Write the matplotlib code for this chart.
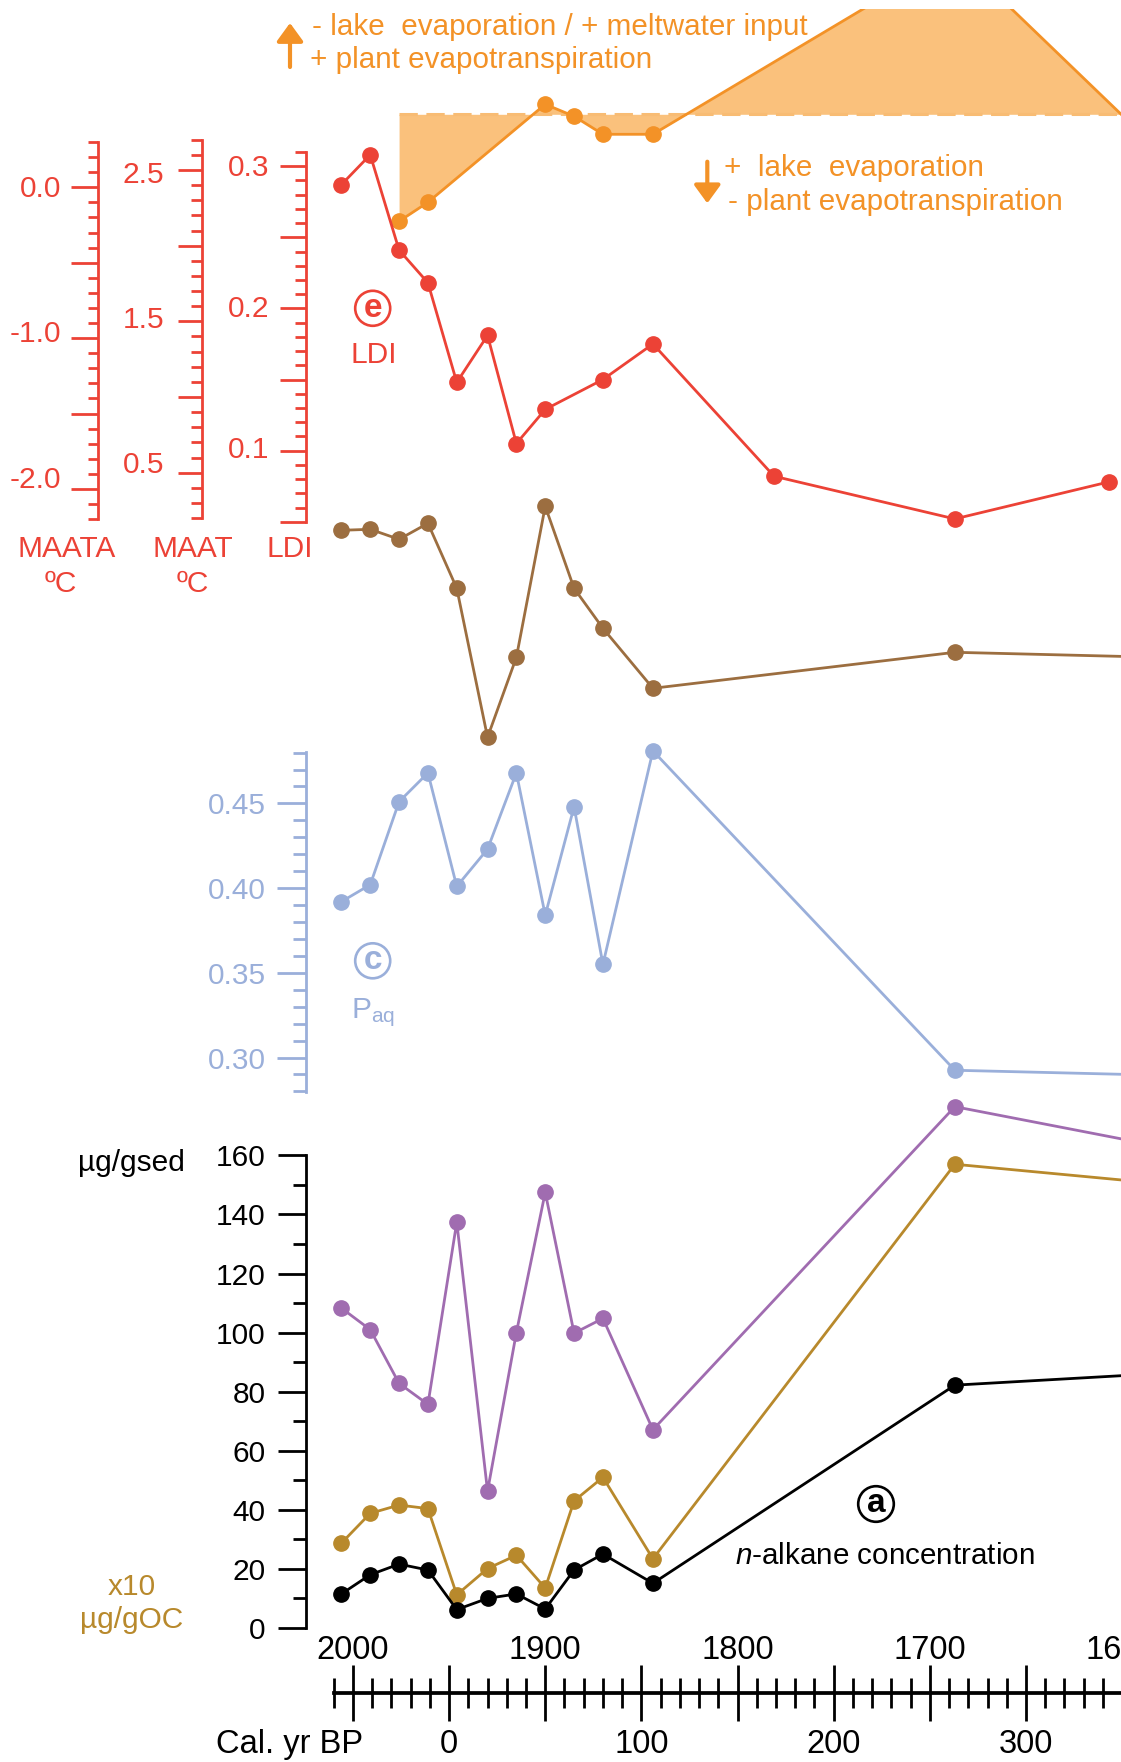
import matplotlib
matplotlib.use('Agg')
import matplotlib.pyplot as plt
import numpy as np
from matplotlib.patches import Circle
from matplotlib.ticker import MultipleLocator, FixedLocator, FuncFormatter, NullLocator
from matplotlib.transforms import blended_transform_factory

plt.rcParams['font.family'] = ['Liberation Sans', 'DejaVu Sans']
plt.rcParams['mathtext.fontset'] = 'custom'
plt.rcParams['mathtext.rm'] = 'Liberation Sans'
plt.rcParams['mathtext.it'] = 'Liberation Sans:italic'
plt.rcParams['mathtext.default'] = 'regular'

# sample ages, yr AD (last value of most series lies past the right edge)
years = [2006, 1991, 1976, 1961, 1946, 1930, 1915, 1900, 1885, 1870, 1844, 1687, 1560]
years_ldi = [2006, 1991, 1976, 1961, 1946, 1930, 1915, 1900, 1870, 1844, 1781, 1687, 1607]
years_dd = [1976, 1961, 1900, 1885, 1870, 1844, 1687, 1560]

# hydrology proxy, anomaly to the mean (arbitrary units, no axis)
dd = [-10.7, -8.8, 1.0, -0.2, -2.0, -2.0, 16.0, -7.5]
# (e) LDI
ldi = [0.287, 0.308, 0.241, 0.218, 0.148, 0.181, 0.105, 0.129, 0.150, 0.175, 0.082, 0.052, 0.078]
# (d) chain length (no axis shown)
acl = [28.58, 28.59, 28.49, 28.65, 28.00, 26.51, 27.31, 28.82, 28.00, 27.60, 27.00, 27.36, 27.30]
# (c) Paq
paq = [0.392, 0.402, 0.451, 0.468, 0.401, 0.423, 0.468, 0.384, 0.448, 0.355, 0.481, 0.2925, 0.289]
# (a) n-alkane concentrations
conc_oc = [108.3, 101.0, 82.8, 75.7, 137.4, 46.3, 100.0, 147.5, 99.8, 104.8, 67.1, 176.5, 160.5]
conc_oc10 = [28.7, 38.8, 41.6, 40.4, 11.2, 20.1, 24.6, 13.5, 43.0, 51.0, 23.4, 157.0, 149.2]
conc_sed = [11.5, 18.0, 21.6, 19.6, 6.2, 10.0, 11.5, 6.4, 19.6, 25.0, 15.1, 82.2, 86.9]

ad_labels = [2000, 1900, 1800, 1700, 1600]
bp_labels = [0, 100, 200, 300]

RED = '#EC4236'
ORANGE = '#F39227'
FILL = '#FAC17C'
DASH = '#F8BC74'
BROWN = '#9C6E40'
BLUE = '#9AAFDA'
PURPLE = '#A06CB0'
GOLD = '#B8892C'

W, H, DPI = 1121, 1762, 100
L, R = 306, 1121
X0, X1 = 2024.4, 1600.6
FS = 21.5
FS_T = 23.5

fig = plt.figure(figsize=(W / DPI, H / DPI), dpi=DPI)


def px_axes(left, top, right, bottom):
    ax = fig.add_axes([left / W, 1 - bottom / H, (right - left) / W, (bottom - top) / H])
    ax.patch.set_visible(False)
    for s in ax.spines.values():
        s.set_visible(False)
    ax.xaxis.set_major_locator(NullLocator())
    ax.yaxis.set_major_locator(NullLocator())
    return ax


def panel(top, bottom, lo, hi):
    ax = px_axes(L, top, R, bottom)
    ax.set_xlim(X0, X1)
    ax.set_ylim(lo, hi)
    return ax


def tick_axis(ax, color, major, minor, mlen, nlen):
    ax.spines['left'].set_visible(True)
    ax.spines['left'].set_color(color)
    ax.spines['left'].set_linewidth(2.0)
    ax.yaxis.set_major_locator(MultipleLocator(major))
    ax.yaxis.set_minor_locator(MultipleLocator(minor))
    ax.tick_params(axis='y', which='major', length=mlen, width=2.0, color=color, labelleft=False)
    ax.tick_params(axis='y', which='minor', length=nlen, width=2.0, color=color)


def label_axis(ax, color, shown, fmt, pad):
    # separate, invisible axes that only carries the tick labels
    ax.yaxis.set_major_locator(FixedLocator(shown))
    ax.yaxis.set_major_formatter(FuncFormatter(lambda v, p: fmt.format(v + 0.0)))
    ax.tick_params(axis='y', which='major', length=0, labelcolor=color,
                   labelsize=FS, pad=pad, labelleft=True)


def ftext(x, y, s, **kw):
    kw.setdefault('fontsize', FS)
    return fig.text(x / W, 1 - y / H, s, **kw)


def circled(x, y, letter, color, r=17.5):
    fig.add_artist(Circle((x / DPI, (H - y) / DPI), r / DPI, transform=fig.dpi_scale_trans,
                          fill=False, ec=color, lw=1.9))
    ftext(x, y + 8.5, letter, ha='center', va='baseline', fontsize=24,
          fontweight='bold', color=color)


line_kw = dict(lw=2.0, marker='o', ms=11, clip_on=False)

# hydrology panel (top, no axis)
ax_dd = panel(9, 240, -12.57, 10.53)
ax_dd.fill_between(years_dd, dd, 0, color=FILL, lw=0)
ax_dd.hlines(0, years_dd[0], X1, colors=DASH, lw=2.2, linestyles=(0, (6, 2.8)))
ax_dd.plot(years_dd, dd, color=ORANGE, lw=2.0, marker='o', ms=11)

# (e) LDI with MAAT and MAATA scales (labels sit slightly off the ticks, as drawn)
ax_e = panel(151.8, 521.9, 0.0499, 0.3101)
tick_axis(ax_e, RED, 0.05, 0.01, 18.7, 7.9)
label_axis(panel(151.8, 521.9, 0.0466, 0.3094), RED, [0.1, 0.2, 0.3], '{:.1f}', 26.4)
ax_e.plot(years_ldi, ldi, color=RED, **line_kw)

ax_maat = px_axes(202.3, 139.7, 203.3, 518.1)
ax_maat.set_ylim(0.2, 2.7001)
tick_axis(ax_maat, RED, 0.5, 0.1, 17.3, 7.7)
lab_maat = px_axes(202.3, 139.7, 203.3, 518.1)
lab_maat.set_ylim(0.116, 2.720)
label_axis(lab_maat, RED, [0.5, 1.5, 2.5], '{:.1f}', 27.6)

ax_maata = px_axes(98.3, 142.0, 99.3, 519.2)
ax_maata.set_ylim(-2.2001, 0.3001)
tick_axis(ax_maata, RED, 0.5, 0.1, 19.2, 7.2)
lab_maata = px_axes(98.3, 142.0, 99.3, 519.2)
lab_maata.set_ylim(-2.292, 0.3003)
label_axis(lab_maata, RED, [-2.0, -1.0, 0.0], '{:.1f}', 26.9)

ftext(66.7, 556.7, 'MAATA', ha='center', va='baseline', color=RED)
ftext(61, 591.7, 'ºC', ha='center', va='baseline', color=RED)
ftext(193.3, 556.7, 'MAAT', ha='center', va='baseline', color=RED)
ftext(192.7, 591.7, 'ºC', ha='center', va='baseline', color=RED)
ftext(290, 557.3, 'LDI', ha='center', va='baseline', color=RED)
circled(372.7, 308.3, 'e', RED)
ftext(373.3, 363.3, 'LDI', ha='center', va='baseline', color=RED)

# (d) brown panel, no axis
ax_d = panel(500, 740, 26.483, 28.883)
ax_d.plot(years, acl, color=BROWN, **line_kw)

# (c) Paq
ax_c = panel(752.4, 1091.6, 0.2799, 0.4801)
tick_axis(ax_c, BLUE, 0.05, 0.01, 20.9, 9.4)
label_axis(panel(752.4, 1091.6, 0.2799, 0.4801), BLUE, [0.30, 0.35, 0.40, 0.45], '{:.2f}', 28.8)
ax_c.plot(years, paq, color=BLUE, **line_kw)
circled(372.7, 960.8, 'c', BLUE)
ftext(373, 1018.3, 'P$_{aq}$', ha='center', va='baseline', color=BLUE)

# (a) n-alkane concentration
ax_a = panel(1155.4, 1627.9, 0, 160)
tick_axis(ax_a, 'black', 20, 10, 20.2, 9.6)
label_axis(panel(1155.4, 1627.9, 0, 160), 'black', list(range(0, 161, 20)), '{:.0f}', 29.3)
ax_a.plot(years, conc_oc, color=PURPLE, **line_kw)
ax_a.plot(years, conc_oc10, color=GOLD, **line_kw)
ax_a.plot(years, conc_sed, color='black', **line_kw)
ftext(131.3, 1171.4, 'µg/gsed', ha='center', va='baseline')
ftext(131.3, 1594.6, 'x10', ha='center', va='baseline', color=GOLD)
ftext(131.3, 1627.9, 'µg/gOC', ha='center', va='baseline', color=GOLD)
circled(876, 1504, 'a', 'black', r=17.8)
ftext(885.3, 1564, '$\\it{n}$-alkane concentration', ha='center', va='baseline', fontsize=21.3)

# time axis, yr AD on top and cal. yr BP below
ax_t = px_axes(L, 1692.3, R, 1693.3)
ax_t.set_xlim(X0, X1)
ax_t.set_ylim(0, 1)
ax_t.spines['bottom'].set_visible(True)
ax_t.spines['bottom'].set_linewidth(2.7)
ax_t.spines['bottom'].set_bounds(2010, X1)
ax_t.xaxis.set_major_locator(FixedLocator(np.arange(2000, 1599, -50)))
ax_t.xaxis.set_minor_locator(FixedLocator(np.arange(2010, 1599, -10)))
ax_t.xaxis.set_major_formatter(FuncFormatter(lambda v, p: ''))
ax_t.tick_params(axis='x', which='major', direction='inout', length=40.8, width=2.0)
ax_t.tick_params(axis='x', which='minor', direction='inout', length=20.9, width=2.0)
bt = blended_transform_factory(ax_t.transData, fig.transFigure)
for yr in ad_labels:
    ax_t.text(yr, 1 - 1659.3 / H, str(yr), transform=bt, ha='center', va='baseline',
              fontsize=FS_T, clip_on=False)
for bp in bp_labels:
    ax_t.text(1950 - bp, 1 - 1753.3 / H, str(bp), transform=bt, ha='center', va='baseline',
              fontsize=FS_T, clip_on=False)
ftext(363, 1753.3, 'Cal. yr BP', ha='right', va='baseline', fontsize=FS_T)

# hydrology annotations
arrow = dict(arrowstyle='-|>,head_length=0.55,head_width=0.4', lw=3, color=ORANGE,
             shrinkA=0, shrinkB=0, mutation_scale=20)
fig.add_artist(plt.Annotation('', xy=(290, H - 23), xytext=(290, H - 67),
                              xycoords='figure pixels', arrowprops=arrow))
fig.add_artist(plt.Annotation('', xy=(707.3, H - 203.3), xytext=(707.3, H - 161.7),
                              xycoords='figure pixels', arrowprops=arrow))
ftext(311.6, 35, '- lake  evaporation / + meltwater input', va='baseline', color=ORANGE, fontsize=21.3)
ftext(309.5, 68.3, '+ plant evapotranspiration', va='baseline', color=ORANGE, fontsize=21.3)
ftext(724.1, 176, '+  lake  evaporation', va='baseline', color=ORANGE, fontsize=21.3)
ftext(727.8, 210, '- plant evapotranspiration', va='baseline', color=ORANGE, fontsize=21.3)

fig.savefig('out.png', dpi=DPI)
